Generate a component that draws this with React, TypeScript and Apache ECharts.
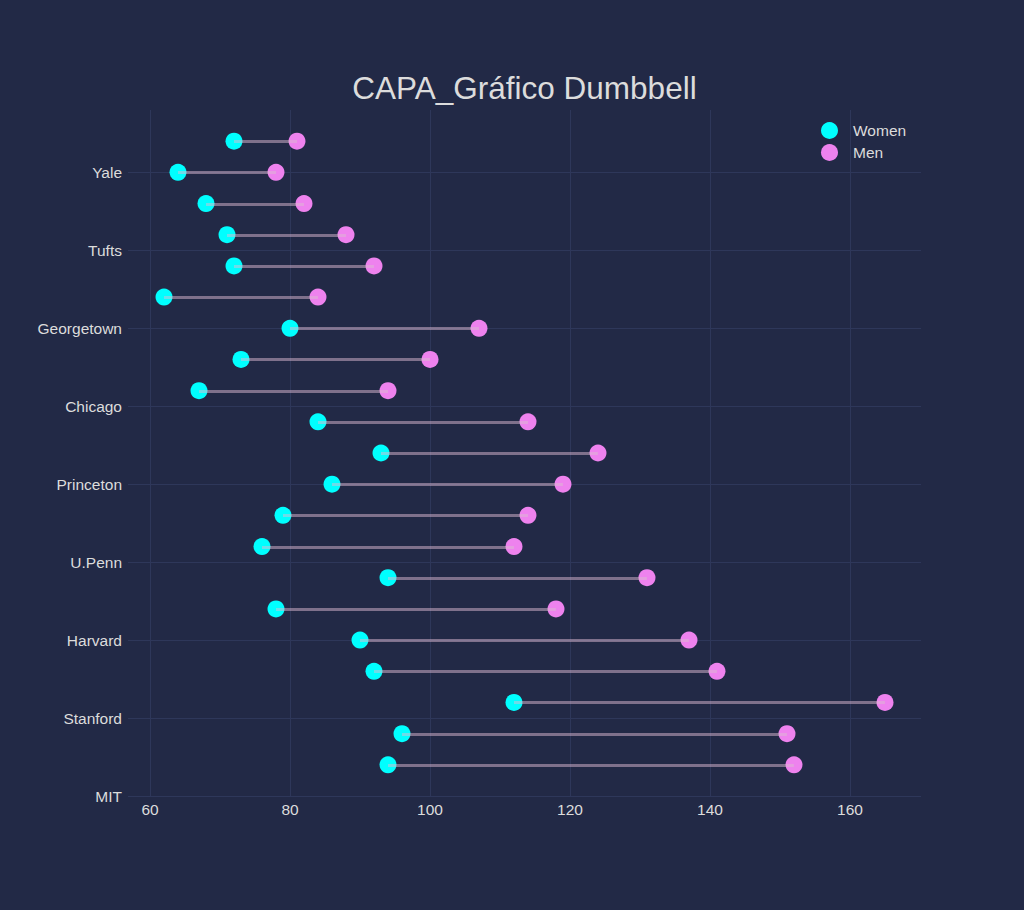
import React, { useEffect, useRef } from "react";
import * as echarts from "echarts";

const schools = ["MIT", "Stanford", "Harvard", "U.Penn", "Princeton", "Chicago", "Georgetown", "Tufts", "Yale", "Columbia", "Duke", "Dartmouth", "NYU", "Notre Dame", "Cornell", "Michigan", "Brown", "Berkeley", "Emory", "UCLA", "SoCal"];
const women = [94, 96, 112, 92, 90, 78, 94, 76, 79, 86, 93, 84, 67, 73, 80, 62, 72, 71, 68, 64, 72];
const men = [152, 151, 165, 141, 137, 118, 131, 112, 114, 119, 124, 114, 94, 100, 107, 84, 92, 88, 82, 78, 81];
const xTickValues = [60, 80, 100, 120, 140, 160];
const yTickValues = [0, 2.5, 5, 7.5, 10, 12.5, 15, 17.5, 20];
const yTickLabels = ["MIT", "Stanford", "Harvard", "U.Penn", "Princeton", "Chicago", "Georgetown", "Tufts", "Yale"];

const BG = "#222946";
const GRID = "#2e375a";
const TEXT = "#dcdcdc";
const FONT = "'Liberation Sans', Arial, sans-serif";

export default function App() {
  const ref = useRef<HTMLDivElement>(null);
  useEffect(() => {
    if (!ref.current) return;
    const chart = echarts.init(ref.current, null, { renderer: "svg" });
    const womenData = schools.map((_, i) => [women[i], i + 1]);
    const menData = schools.map((_, i) => [men[i], i + 1]);
    const lineData = schools.map((_, i) => [women[i], men[i], i + 1]);
    chart.setOption({
      animation: false,
      backgroundColor: BG,
      textStyle: { fontFamily: FONT },
      graphic: [
        {
          type: "text",
          x: 524.5,
          y: 88,
          style: {
            text: "CAPA_Gráfico Dumbbell",
            fill: TEXT,
            font: `31.5px ${FONT}`,
            textAlign: "center",
            textVerticalAlign: "middle",
          },
        },
      ],
      legend: {
        orient: "vertical",
        left: 816,
        top: 117,
        itemWidth: 17,
        itemHeight: 17,
        itemGap: 5,
        icon: "circle",
        data: ["Women", "Men"],
        textStyle: { color: TEXT, fontSize: 15.5, fontFamily: FONT, padding: [0, 0, 0, 10] },
      },
      grid: { left: 128, right: 103, top: 110, bottom: 114, containLabel: false },
      xAxis: {
        type: "value",
        min: 56.857,
        max: 170.143,
        axisLine: { show: false },
        axisTick: { show: false, customValues: xTickValues },
        splitLine: { show: false },
        axisLabel: {
          customValues: xTickValues,
          color: TEXT,
          fontSize: 15.5,
          fontFamily: FONT,
          margin: 5,
        },
      },
      yAxis: {
        type: "value",
        min: 0,
        max: 22,
        axisLine: { show: false },
        axisTick: { show: false, customValues: yTickValues },
        splitLine: { show: false },
        axisLabel: {
          customValues: yTickValues,
          color: TEXT,
          fontSize: 15.5,
          fontFamily: FONT,
          margin: 6,
          formatter: (v: number) => {
            const idx = yTickValues.indexOf(v);
            return idx >= 0 ? yTickLabels[idx] : "";
          },
        },
      },
      series: [
        {
          type: "line",
          name: "grid",
          data: [],
          silent: true,
          z: 0,
          markLine: {
            silent: true,
            z: 0,
            symbol: "none",
            label: { show: false },
            lineStyle: { color: GRID, width: 1, type: "solid" },
            data: [
              ...xTickValues.map((v) => ({ xAxis: v })),
              ...yTickValues.map((v) => ({ yAxis: v })),
            ],
          },
        },
        {
          type: "scatter",
          name: "Women",
          data: womenData,
          symbol: "circle",
          symbolSize: 17,
          itemStyle: { color: "#00ffff", opacity: 1 },
          z: 2,
        },
        {
          type: "scatter",
          name: "Men",
          data: menData,
          symbol: "circle",
          symbolSize: 17,
          itemStyle: { color: "#ee82ee", opacity: 1 },
          z: 2,
        },
        {
          type: "custom",
          name: "gap",
          data: lineData,
          encode: { x: [0, 1], y: 2 },
          z: 6,
          silent: true,
          renderItem: (params: any, api: any) => {
            const p1 = api.coord([api.value(0), api.value(2)]);
            const p2 = api.coord([api.value(1), api.value(2)]);
            const y = Math.round(p1[1]) + 0.5;
            return {
              type: "line",
              shape: { x1: p1[0], y1: y, x2: p2[0], y2: y },
              style: { stroke: "rgba(220,185,210,0.5)", lineWidth: 3 },
            };
          },
        },
      ],
    });
    return () => chart.dispose();
  }, []);
  return (
    <div
      ref={ref}
      style={{ position: "fixed", left: 0, top: 0, width: 1024, height: 910 }}
    />
  );
}
